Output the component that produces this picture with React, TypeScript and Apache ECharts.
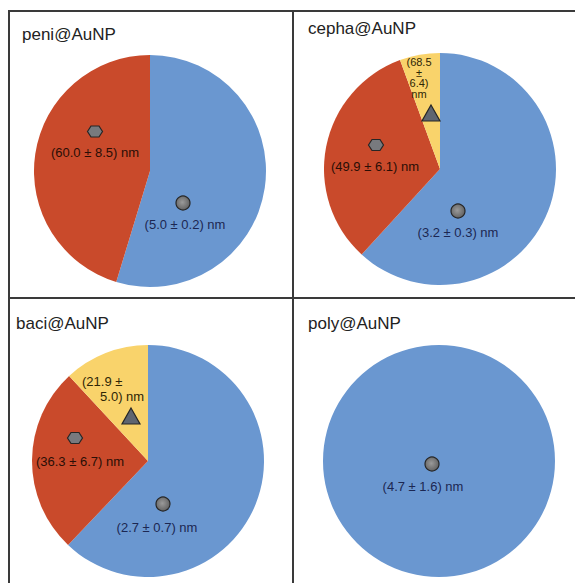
import React, { useEffect, useRef } from "react";
import * as echarts from "echarts";

// ---- data ----
const panelTitles = ["peni@AuNP", "cepha@AuNP", "baci@AuNP", "poly@AuNP"];
const sliceNames = ["spheres", "hexagons", "triangles"];
const peniValues = [54.7, 45.3];
const cephaValues = [61.8, 32.6, 5.6];
const baciValues = [62.1, 26.0, 11.9];
const polyValues = [100];
const peniLabels = ["(5.0 ± 0.2) nm", "(60.0 ± 8.5) nm"];
const cephaLabels = ["(3.2 ± 0.3) nm", "(49.9 ± 6.1) nm", "(68.5\n±\n6.4)\nnm"];
const baciLabels = ["(2.7 ± 0.7) nm", "(36.3 ± 6.7) nm", "(21.9 ±\n     5.0) nm"];
const polyLabels = ["(4.7 ± 1.6) nm"];

// ---- layout / style ----
const COLORS = ["#6a97d0", "#c94a2b", "#f9d36b"];
const TEXT_COLORS = ["#1c2752", "#2a0e06", "#2e2606"];
const FONT = "'Liberation Sans', Arial, Helvetica, sans-serif";
const R = 116;
const centers: [number, number][] = [
  [150, 171],
  [440, 169],
  [148, 461],
  [439, 461],
];
const titlePos: [number, number][] = [
  [22, 43],
  [308, 37],
  [16, 332],
  [308, 332],
];
// icon and label positions per panel, per slice (absolute px)
const iconPos: [number, number][][] = [
  [[183, 203], [95, 131.5]],
  [[458, 211], [376, 145], [431, 113]],
  [[163, 504], [75, 438], [131, 416]],
  [[432, 464]],
];
const labelPos: [number, number][][] = [
  [[185, 224], [95, 152]],
  [[458, 232], [375, 166], [419, 78]],
  [[157, 527], [80, 461], [114, 389]],
  [[423, 486]],
];

const valuesList = [peniValues, cephaValues, baciValues, polyValues];
const labelsList = [peniLabels, cephaLabels, baciLabels, polyLabels];

function iconGraphic(kind: number, x: number, y: number): any {
  const style = { fill: "#787a7e", stroke: "#262626", lineWidth: 1.2 };
  const base = { z: 100, zlevel: 0 };
  if (kind === 0) {
    return {
      ...base,
      type: "circle",
      shape: { cx: x, cy: y, r: 7 },
      style: {
        ...style,
        fill: {
          type: "radial", x: 0.45, y: 0.45, r: 0.6,
          colorStops: [{ offset: 0, color: "#9a9a9a" }, { offset: 1, color: "#5e5e5e" }],
        },
      },
    };
  }
  if (kind === 1) {
    return {
      ...base,
      type: "polygon",
      shape: { points: [[x - 7.5, y], [x - 4, y - 5.5], [x + 4, y - 5.5], [x + 7.5, y], [x + 4, y + 5.5], [x - 4, y + 5.5]] },
      style,
    };
  }
  return {
    ...base,
    type: "polygon",
    shape: { points: [[x, y - 8], [x + 9, y + 8], [x - 9, y + 8]] },
    style: { ...style, fill: "#5f6570" },
  };
}

export default function App() {
  const ref = useRef<HTMLDivElement>(null);
  useEffect(() => {
    document.body.style.margin = "0";
    if (!ref.current) return;
    const chart = echarts.init(ref.current, null, { renderer: "svg" });

    const series: any[] = valuesList.map((vals, p) => ({
      type: "pie",
      center: centers[p],
      radius: R,
      startAngle: 90,
      clockwise: true,
      silent: true,
      z: 1,
      label: { show: false },
      labelLine: { show: false },
      itemStyle: { borderWidth: 0 },
      data: vals.map((v, i) => ({ name: sliceNames[i], value: v, itemStyle: { color: COLORS[i] } })),
    }));

    const graphics: any[] = [];
    // borders
    const lineStyle = { stroke: "#3a3a3a", lineWidth: 2 };
    graphics.push({ type: "line", z: 100, shape: { x1: 8, y1: 11, x2: 575, y2: 11 }, style: lineStyle });
    graphics.push({ type: "line", z: 100, shape: { x1: 9, y1: 11, x2: 9, y2: 583 }, style: lineStyle });
    graphics.push({ type: "line", z: 100, shape: { x1: 293, y1: 11, x2: 293, y2: 583 }, style: lineStyle });
    graphics.push({ type: "line", z: 100, shape: { x1: 8, y1: 298, x2: 575, y2: 298 }, style: lineStyle });

    panelTitles.forEach((t, p) => {
      graphics.push({
        type: "text",
        z: 100,
        x: titlePos[p][0],
        y: titlePos[p][1],
        style: { text: t, fill: "#222", font: `17px ${FONT}`, verticalAlign: "bottom" },
      });
    });

    labelsList.forEach((labels, p) => {
      labels.forEach((lab, i) => {
        const [ix, iy] = iconPos[p][i];
        graphics.push(iconGraphic(i, ix, iy));
        const [lx, ly] = labelPos[p][i];
        const small = p === 1 && i === 2;
        const multi = p === 2 && i === 2;
        graphics.push({
          type: "text",
          z: 101,
          x: multi ? lx - 32 : lx,
          y: ly,
          style: {
            text: lab,
            fill: TEXT_COLORS[i],
            font: `${small ? 11 : 13}px ${FONT}`,
            lineHeight: small ? 10.5 : multi ? 15 : 16,
            align: multi ? "left" : "center",
            verticalAlign: "middle",
          },
        });
      });
    });

    chart.setOption({
      animation: false,
      backgroundColor: "#ffffff",
      series,
      graphic: graphics,
    });
    return () => chart.dispose();
  }, []);
  return <div ref={ref} style={{ width: 575, height: 583 }} />;
}
